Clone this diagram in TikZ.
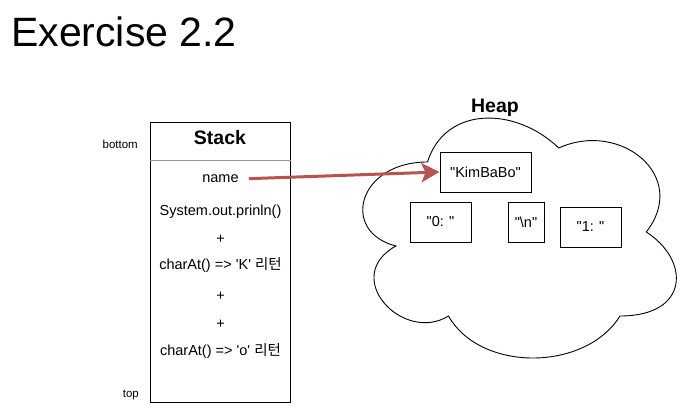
\documentclass[tikz,border=0pt]{standalone}
\usepackage{fontspec}
\usepackage{tikz}
\usepackage{xcolor}
\usetikzlibrary{arrows.meta}
\newfontfamily\arialfont{Liberation Sans}
\newfontfamily\krfont{Noto Sans CJK KR}
\definecolor{refred}{RGB}{184,84,80}
\definecolor{dividergray}{RGB}{150,150,150}

\tikzset{
	txt/.style={inner sep=0pt, anchor=base, font=\arialfont\fontsize{14.5}{17}\selectfont},
	heapbox/.style={rectangle, draw=black, line width=1pt, inner sep=0pt,
		minimum height=40pt, font=\arialfont\fontsize{14.5}{17}\selectfont},
	refarrow/.style={draw=refred, line width=3pt,
		-{Stealth[length=18pt, width=19pt, inset=4pt, fill=refred]}}
}

\begin{document}
\begin{tikzpicture}[x=1pt, y=-1pt]
				\useasboundingbox (0,0) rectangle (691,412);
				% titre
				\node[inner sep=0pt, anchor=base west,
				font=\arialfont\fontsize{41}{48}\selectfont] (title) at (11,46.7) {Exercise 2.2};
				
				% pile
				\node[rectangle, draw=black, line width=1pt,
				minimum width=140pt, minimum height=280pt] (stack) at (220.7,262) {};
				\draw[dividergray, line width=1pt] ([yshift=-38.7pt]stack.north west) -- ([yshift=-38.7pt]stack.north east);
				\node[txt, font=\arialfont\bfseries\fontsize{19.5}{23}\selectfont] (stacktitle) at (220,144.3) {Stack};
				\node[txt, anchor=base east, font=\arialfont\fontsize{11.5}{14}\selectfont] (bottom) at (138,148) {bottom};
				\node[txt, anchor=base east, font=\arialfont\fontsize{11.5}{14}\selectfont] (top) at (139,397) {top};
				\node[txt] (name) at (220.5,182.5) {name};
				\node[txt] (println) at (220.5,215) {System.out.prinln()};
				\node[txt] (plusa) at (220.5,243.8) {+};
				\node[txt] (chark) at (220.5,269.8) {charAt() => 'K' {\krfont 리턴}};
				\node[txt] (plusb) at (220.5,300) {+};
				\node[txt] (plusc) at (220.5,328) {+};
				\node[txt] (charo) at (220.5,355) {charAt() => 'o' {\krfont 리턴}};
				
				% tas
				\node[txt, font=\arialfont\bfseries\fontsize{19.5}{23}\selectfont] (heaptitle) at (495,112.7) {Heap};
				\begin{scope}[shift={(340,92)}, x=350pt, y=-280pt]
					\draw[black, line width=0.9pt] (0.25,0.25)
					.. controls (0.05,0.25) and (0,0.5) .. (0.16,0.55)
					.. controls (0,0.66) and (0.18,0.9) .. (0.31,0.8)
					.. controls (0.4,1) and (0.7,1) .. (0.8,0.8)
					.. controls (1,0.8) and (1,0.6) .. (0.875,0.5)
					.. controls (1,0.3) and (0.8,0.1) .. (0.625,0.2)
					.. controls (0.5,0.05) and (0.3,0.05) .. cycle;
				\end{scope}
				\node[heapbox, minimum width=91pt] (kim) at (485.5,172) {"KimBaBo"};
				\node[heapbox, minimum width=61pt] (zero) at (440.5,222) {"0: "};
				\node[heapbox, minimum width=36pt] (newline) at (526,222) {"\textbackslash n"};
				\node[heapbox, minimum width=61pt] (one) at (590.5,227) {"1: "};
				
				\draw[refarrow] ([xshift=10pt]name.east) -- (kim.west);
			\end{tikzpicture}
\end{document}
